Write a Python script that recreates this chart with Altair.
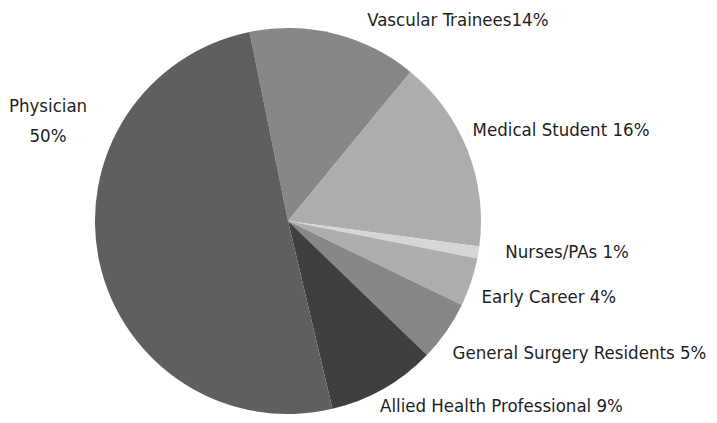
import math
import altair as alt
import pandas as pd

# ---- data ----
categories = ["Vascular Trainees", "Medical Student", "Nurses/PAs", "Early Career",
              "General Surgery Residents", "Allied Health Professional", "Physician"]
values = [14, 16, 1, 4, 5, 9, 50]
labels = ["Vascular Trainees14%", "Medical Student 16%", "Nurses/PAs 1%", "Early Career 4%",
          "General Surgery Residents 5%", "Allied Health Professional 9%", "Physician\n50%"]

# ---- styles / layout ----
colors = ["#878787", "#adadad", "#d6d6d6", "#adadad", "#878787", "#3f3f3f", "#5f5f5f"]
label_dx = [118, 73, 67, 57, 115, 107, -30]
label_dy = [8, -12, -4, 8, 9, -2, -161]
start_deg = 348.5
cx, cy, R = 280, 213, 193
label_r = 215

total = sum(values)
a0 = math.radians(start_deg)
theta_scale = alt.Scale(domain=[0, total], range=[a0, a0 + 2 * math.pi])

starts = [sum(values[:i]) for i in range(len(values))]
df = pd.DataFrame({
    "category": categories,
    "value": values,
    "label": labels,
    "idx": list(range(len(values))),
    "mid": [s + v / 2 for s, v in zip(starts, values)],
})

base = alt.Chart(df)

pie = base.mark_arc(radius=R, x=cx, y=cy).encode(
    theta=alt.Theta("value:Q", stack=True, scale=theta_scale),
    order=alt.Order("idx:Q"),
    color=alt.Color("category:N", scale=alt.Scale(domain=categories, range=colors), legend=None),
)

layers = [pie]
for i, lab in enumerate(labels):
    t = base.transform_filter(alt.datum.idx == i).mark_text(
        radius=label_r, x=cx, y=cy, dx=label_dx[i], dy=label_dy[i],
        font="DejaVu Sans Condensed", fontSize=18.5, color="#1e1e1e",
        align="center", baseline="middle", lineBreak="\n", lineHeight=30,
    ).encode(
        theta=alt.Theta("mid:Q", scale=theta_scale),
        text="label:N",
    )
    layers.append(t)

chart = alt.layer(*layers).properties(
    width=701, height=407, padding=0,
    autosize=alt.AutoSizeParams(type="none"),
).configure_view(stroke=None)

chart.save("out.html", embed_options={"renderer": "svg", "actions": False})
